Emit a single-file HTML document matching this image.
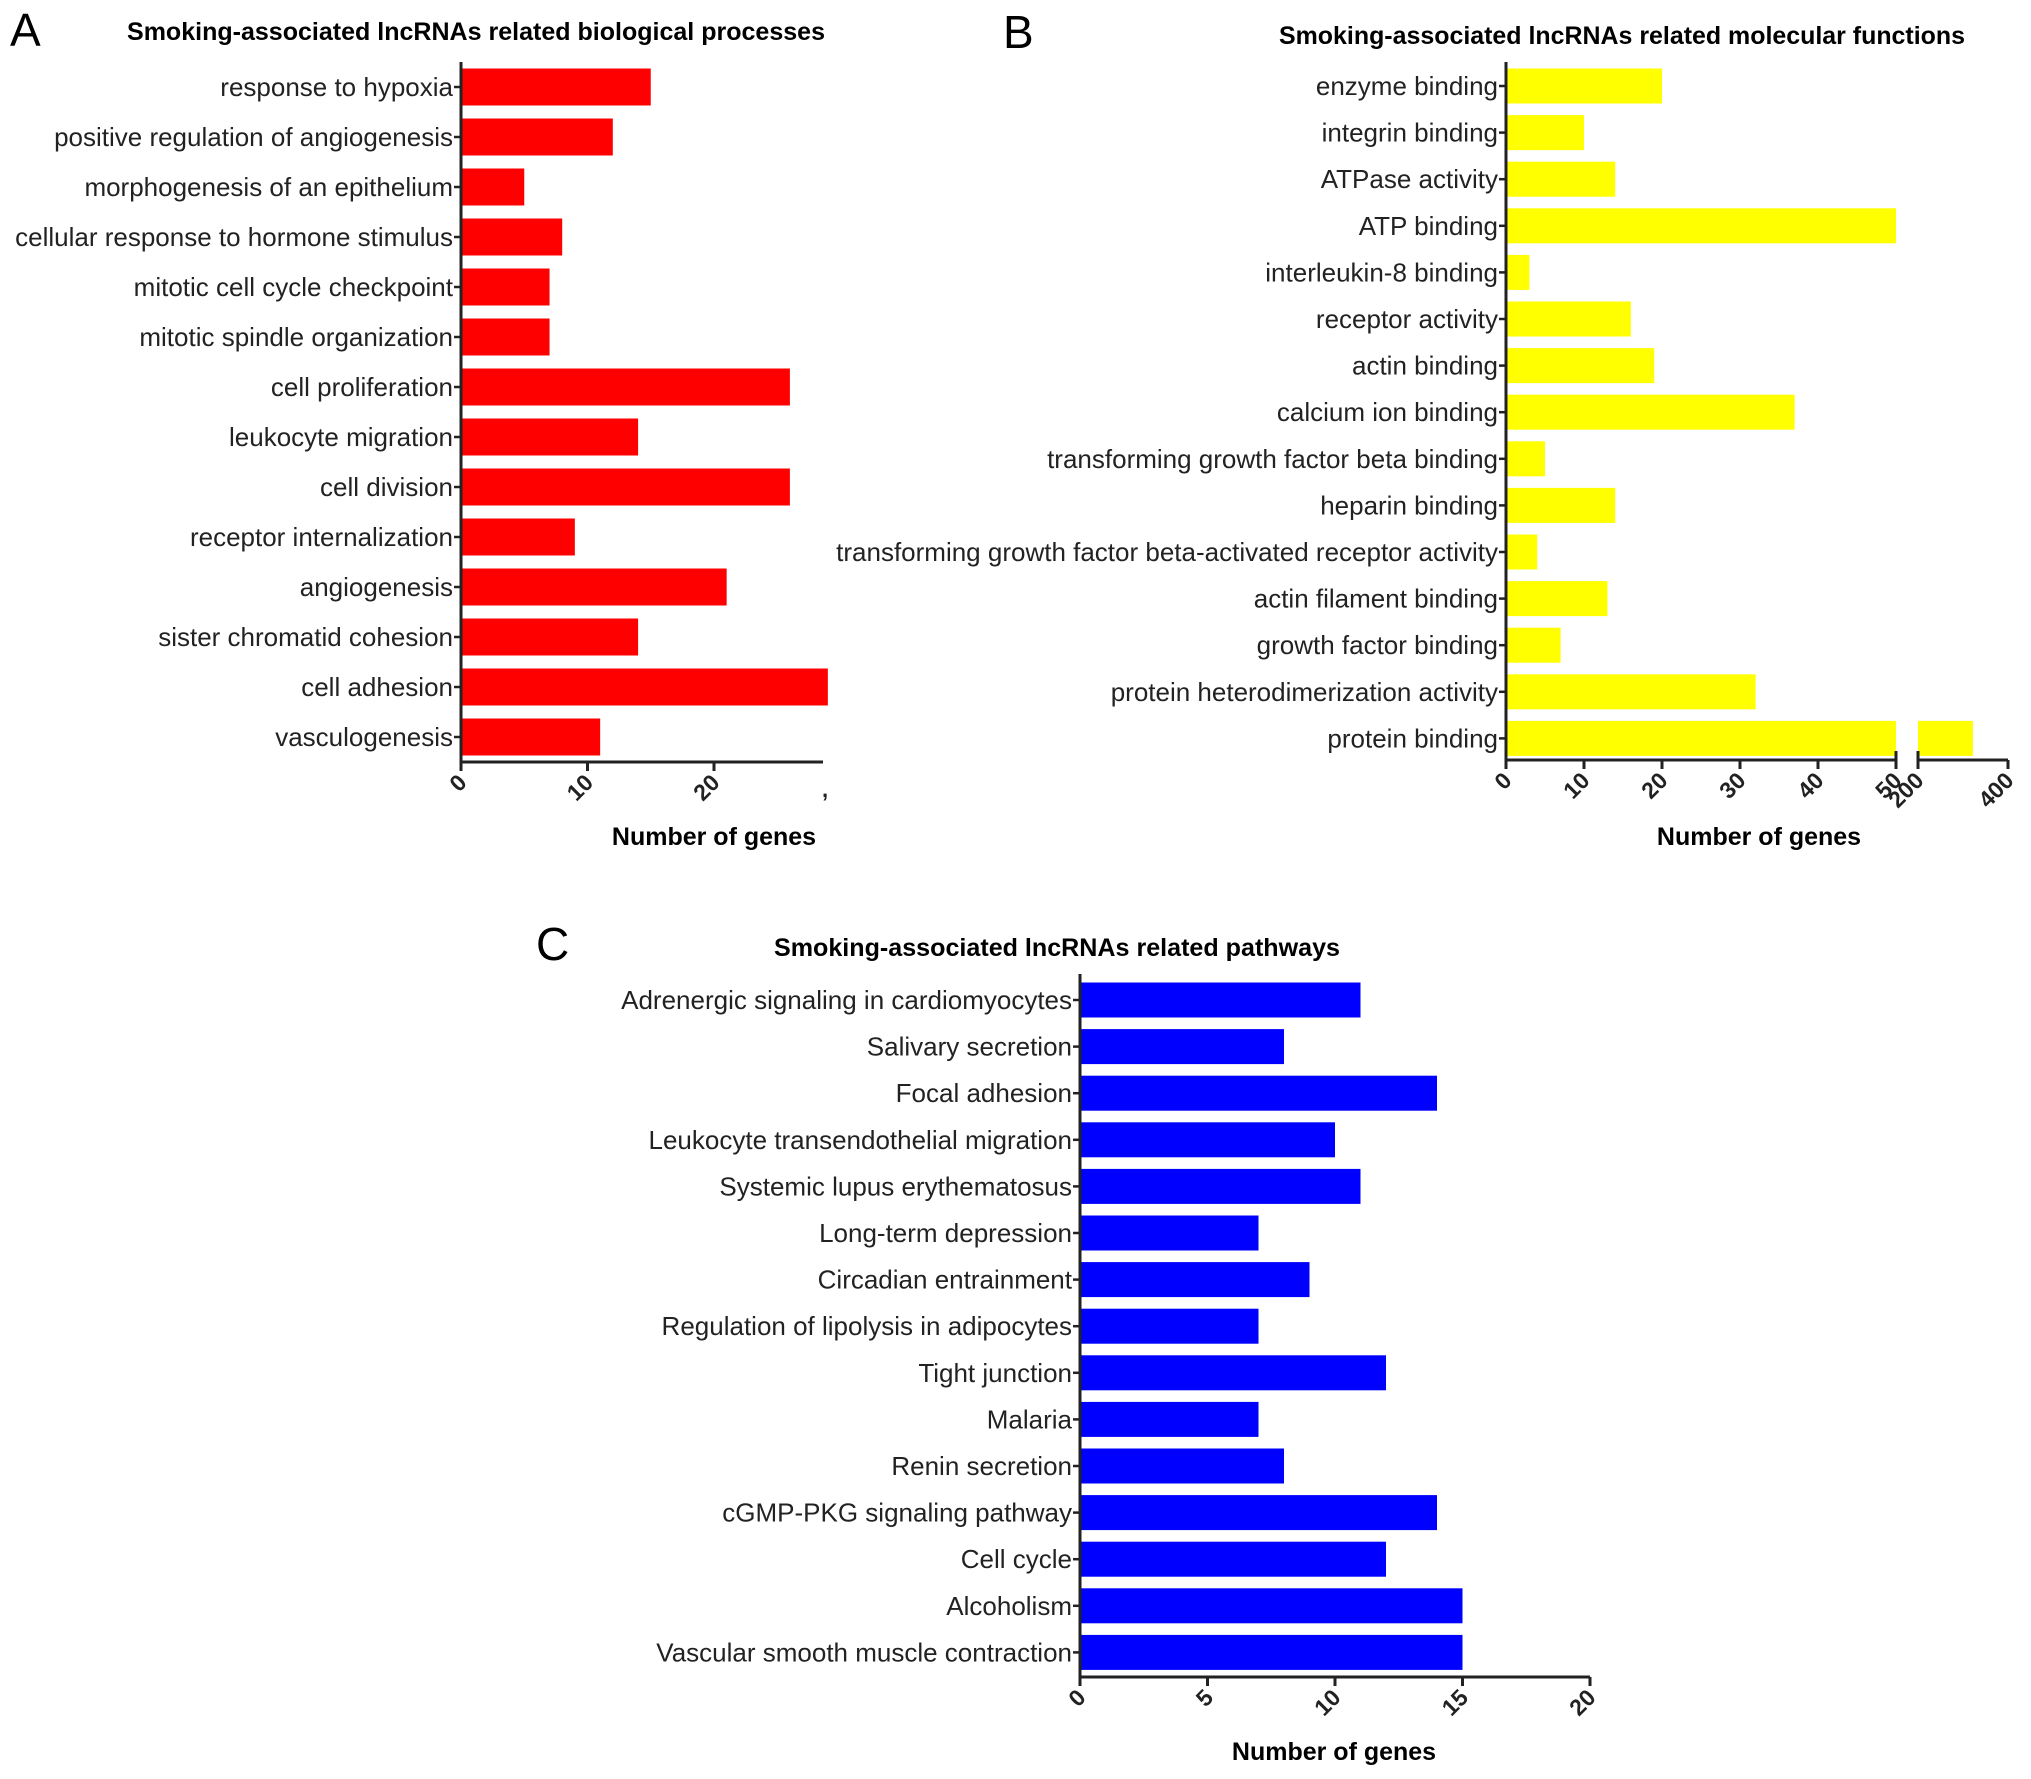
<!DOCTYPE html>
<html><head><meta charset="utf-8"><style>
html,body{margin:0;padding:0;background:#fff;}
svg{display:block;font-family:"Liberation Sans",Arial,sans-serif;}
</style></head><body>
<svg id="fig" width="2031" height="1779" viewBox="0 0 2031 1779" xmlns="http://www.w3.org/2000/svg">
<text x="10" y="46" font-size="46">A</text>
<text x="1003" y="48" font-size="46">B</text>
<text x="536" y="960" font-size="46">C</text>
<text x="476" y="40" font-size="25" font-weight="bold" text-anchor="middle" textLength="698" lengthAdjust="spacingAndGlyphs">Smoking-associated lncRNAs related biological processes</text>
<text x="1622" y="44" font-size="25" font-weight="bold" text-anchor="middle" textLength="686" lengthAdjust="spacingAndGlyphs">Smoking-associated lncRNAs related molecular functions</text>
<text x="1057" y="956" font-size="25" font-weight="bold" text-anchor="middle" textLength="566" lengthAdjust="spacingAndGlyphs">Smoking-associated lncRNAs related pathways</text>
<text x="714" y="845" font-size="25" font-weight="bold" text-anchor="middle">Number of genes</text>
<text x="1759" y="845" font-size="25" font-weight="bold" text-anchor="middle">Number of genes</text>
<text x="1334" y="1760" font-size="25" font-weight="bold" text-anchor="middle">Number of genes</text>
</svg>
<script>
const aCategories=["response to hypoxia","positive regulation of angiogenesis","morphogenesis of an epithelium","cellular response to hormone stimulus","mitotic cell cycle checkpoint","mitotic spindle organization","cell proliferation","leukocyte migration","cell division","receptor internalization","angiogenesis","sister chromatid cohesion","cell adhesion","vasculogenesis"];
const aValues=[15,12,5,8,7,7,26,14,26,9,21,14,29,11];
const aTicks=[0,10,20];
const bCategories=["enzyme binding","integrin binding","ATPase activity","ATP binding","interleukin-8 binding","receptor activity","actin binding","calcium ion binding","transforming growth factor beta binding","heparin binding","transforming growth factor beta-activated receptor activity","actin filament binding","growth factor binding","protein heterodimerization activity","protein binding"];
const bValues=[20,10,14,50,3,16,19,37,5,14,4,13,7,32,322];
const bTicksLow=[0,10,20,30,40,50];
const bTicksHigh=[200,400];
const cCategories=["Adrenergic signaling in cardiomyocytes","Salivary secretion","Focal adhesion","Leukocyte transendothelial migration","Systemic lupus erythematosus","Long-term depression","Circadian entrainment","Regulation of lipolysis in adipocytes","Tight junction","Malaria","Renin secretion","cGMP-PKG signaling pathway","Cell cycle","Alcoholism","Vascular smooth muscle contraction"];
const cValues=[11,8,14,10,11,7,9,7,12,7,8,14,12,15,15];
const cTicks=[0,5,10,15,20];

const NS="http://www.w3.org/2000/svg";
const svg=document.getElementById('fig');
function mk(tag,attrs,parent){const e=document.createElementNS(NS,tag);for(const k in attrs)e.setAttribute(k,attrs[k]);(parent||svg).appendChild(e);return e;}

function chart(o){
  const g=mk('g',{});
  
  
  const yPos=i=>o.firstY+i*o.step;
  o.cats.forEach((c,i)=>{
    const v=o.vals[i];
    const w1=o.xs(Math.min(v,o.breakAt||Infinity))-o.x0;
    const r=mk('rect',{x:o.x0,y:yPos(i)-o.bh/2,width:Math.max(0,w1),height:o.bh,fill:o.color},g);
    
    
    if(o.breakAt && v>o.breakAt){
      const r2=mk('rect',{x:o.seg2x0,y:yPos(i)-o.bh/2,width:o.xs2(v)-o.seg2x0,height:o.bh,fill:o.color},g);
      
      
    }
    mk('line',{x1:o.x0-7,x2:o.x0,y1:yPos(i),y2:yPos(i),stroke:'#222','stroke-width':2.5},g);
    const t=mk('text',{x:o.x0-8,y:yPos(i)+9,'font-size':26,'text-anchor':'end',fill:'#222'},g);
    t.textContent=c;
    
    
  });
  mk('line',{x1:o.x0,x2:o.x0,y1:o.top,y2:o.axisY+1.5,stroke:'#222','stroke-width':3},g);
  mk('line',{x1:o.x0-1.5,x2:o.axisEnd,y1:o.axisY,y2:o.axisY,stroke:'#222','stroke-width':3},g);
  const tick=(x,lab)=>{
    mk('line',{x1:x,x2:x,y1:o.axisY,y2:o.axisY+9,stroke:'#222','stroke-width':3},g);
    const t=mk('text',{x:x+7,y:o.axisY+22,'font-size':23,'font-weight':'bold','text-anchor':'end',fill:'#222',transform:`rotate(-45 ${x+7} ${o.axisY+22})`},g);
    t.textContent=lab;
    
    
  };
  o.ticks.forEach(v=>tick(o.xs(v),String(v)));
  if(o.ticks2){
    mk('line',{x1:o.seg2x0,x2:o.seg2end,y1:o.axisY,y2:o.axisY,stroke:'#222','stroke-width':3},g);
    mk('line',{x1:o.seg2x0,x2:o.seg2x0,y1:o.axisY-9,y2:o.axisY+9,stroke:'#222','stroke-width':3},g);
    mk('line',{x1:o.xs(o.breakAt),x2:o.xs(o.breakAt),y1:o.axisY-9,y2:o.axisY,stroke:'#222','stroke-width':3},g);
    o.ticks2.forEach(v=>tick(o.xs2(v),String(v)));
  }
  if(o.extra)o.extra(g);
}

chart({id:'chart-a-biological-processes',cats:aCategories,vals:aValues,color:'#ff0000',x0:461,xs:v=>461+v*12.65,firstY:87,step:50,bh:37,top:62,axisY:762,axisEnd:823,ticks:aTicks,
  extra:g=>{mk('text',{x:822,y:797,'font-size':22,'font-weight':'bold',fill:'#222'},g).textContent=',';}});
chart({id:'chart-b-molecular-functions',cats:bCategories,vals:bValues,color:'#ffff00',x0:1506,xs:v=>1506+v*7.8,firstY:86,step:46.6,bh:35,top:62,axisY:760,axisEnd:1896,ticks:bTicksLow,
  breakAt:50,seg2x0:1918,seg2end:2008,xs2:v=>1918+(v-200)*0.45,ticks2:bTicksHigh});
chart({id:'chart-c-pathways',cats:cCategories,vals:cValues,color:'#0000ff',x0:1080,xs:v=>1080+v*25.5,firstY:1000,step:46.6,bh:35,top:974,axisY:1677,axisEnd:1590,ticks:cTicks});
</script>
</body></html>
